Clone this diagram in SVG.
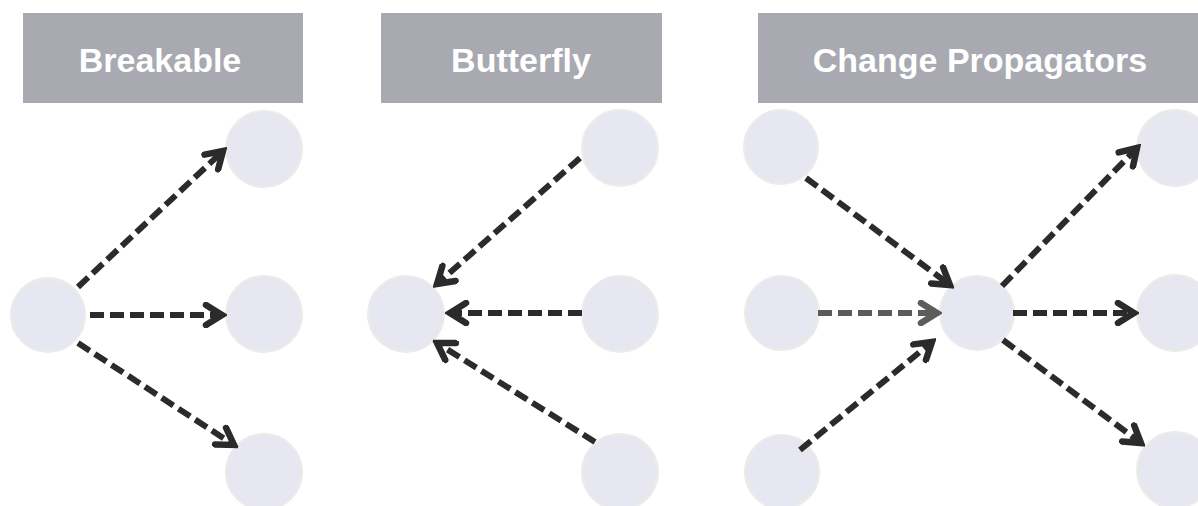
<svg xmlns="http://www.w3.org/2000/svg" width="1198" height="506" viewBox="0 0 1198 506">
<style>
.hdr{fill:#a9a9b2}
.ht{fill:#ffffff;font-family:"Liberation Sans",Arial,sans-serif;font-weight:bold;font-size:34px;text-anchor:middle}
.node{fill:#e7e7f1;stroke:#ebebe8;stroke-width:2}
.arr{fill:none;stroke:#2b2b2b;stroke-width:6;stroke-dasharray:14 6;marker-end:url(#ah)}
.arr.g{stroke:#5c5c5c;marker-end:url(#ahg)}
</style>
<defs>
<marker id="ah" viewBox="0 0 26 26" refX="21" refY="13" markerWidth="26" markerHeight="26" markerUnits="userSpaceOnUse" orient="auto">
<path d="M5,3 L21,13 L5,23" fill="none" stroke="#2b2b2b" stroke-width="6.5" stroke-linecap="round"/>
</marker>
<marker id="ahg" viewBox="0 0 26 26" refX="21" refY="13" markerWidth="26" markerHeight="26" markerUnits="userSpaceOnUse" orient="auto">
<path d="M5,3 L21,13 L5,23" fill="none" stroke="#5c5c5c" stroke-width="6.5" stroke-linecap="round"/>
</marker>
</defs>
<rect width="1198" height="506" fill="#ffffff"/>
<g id="header-breakable"><rect class="hdr" x="23" y="13" width="280" height="90"/><text class="ht" x="160" y="72">Breakable</text></g>
<g id="header-butterfly"><rect class="hdr" x="381" y="13" width="281" height="90"/><text class="ht" x="521" y="72">Butterfly</text></g>
<g id="header-change"><rect class="hdr" x="758" y="13" width="440" height="90"/><text class="ht" x="980" y="72">Change Propagators</text></g>

<g id="b-src"><circle class="node" cx="48" cy="315" r="37"/></g>
<g id="b-t1"><circle class="node" cx="264" cy="149" r="38"/></g>
<g id="b-t2"><circle class="node" cx="264" cy="314" r="38"/></g>
<g id="b-t3"><circle class="node" cx="264" cy="472" r="38"/></g>

<g id="f-dst"><circle class="node" cx="406" cy="314" r="38"/></g>
<g id="f-s1"><circle class="node" cx="620" cy="148" r="38"/></g>
<g id="f-s2"><circle class="node" cx="620" cy="314" r="38"/></g>
<g id="f-s3"><circle class="node" cx="620" cy="472" r="38"/></g>

<g id="c-in1"><circle class="node" cx="781" cy="147" r="37"/></g>
<g id="c-in2"><circle class="node" cx="782" cy="313" r="37"/></g>
<g id="c-in3"><circle class="node" cx="782" cy="472" r="37"/></g>
<g id="c-hub"><circle class="node" cx="977" cy="313" r="37"/></g>
<g id="c-out1"><circle class="node" cx="1175" cy="148" r="38"/></g>
<g id="c-out2"><circle class="node" cx="1175" cy="313" r="38"/></g>
<g id="c-out3"><circle class="node" cx="1175" cy="470" r="38"/></g>

<g id="connectors">
<path class="arr" d="M78,287 L223,151"/>
<path class="arr" d="M90,315 L222,315"/>
<path class="arr" d="M78,343 L234,445"/>

<path class="arr" d="M580,158 L437,284"/>
<path class="arr" d="M582,313 L450,313"/>
<path class="arr" d="M595,442 L437,343"/>

<path class="arr" d="M806,178 L950,285"/>
<path class="arr g" d="M818,313 L937,313"/>
<path class="arr" d="M800,450 L932,342"/>
<path class="arr" d="M1002,286 L1137,148"/>
<path class="arr" d="M1013,313 L1134,313"/>
<path class="arr" d="M1003,340 L1141,443"/>
</g>
</svg>
